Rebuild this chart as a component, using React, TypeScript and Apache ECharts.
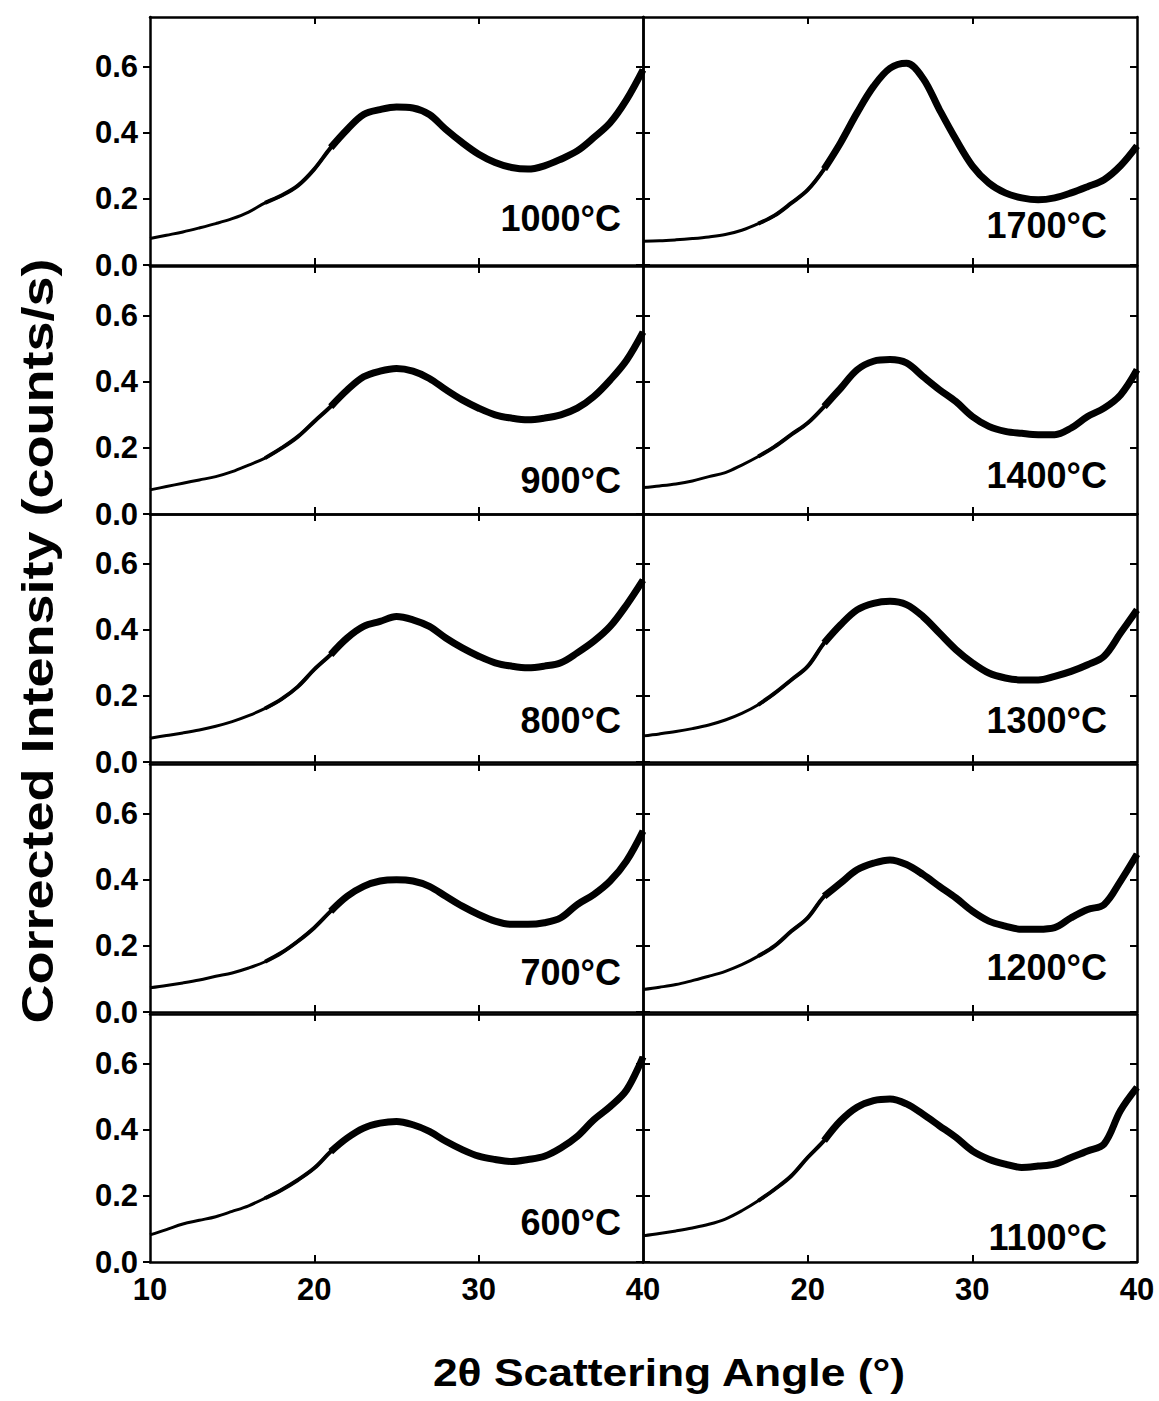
import React, { useEffect, useRef } from "react";
import * as echarts from "echarts";

// 2θ angles (degrees) at which intensities were read
const ANGLES = [10, 11, 12, 13, 14, 15, 16, 17, 18, 19, 20, 21, 22, 23, 24, 25, 26, 27, 28, 29, 30, 31, 32, 33, 34, 35, 36, 37, 38, 39, 40];

// Corrected intensity (counts/s) for each heat-treatment temperature
const I_600 = [0.082, 0.098, 0.115, 0.126, 0.137, 0.153, 0.17, 0.193, 0.218, 0.248, 0.284, 0.334, 0.375, 0.405, 0.42, 0.425, 0.415, 0.395, 0.365, 0.34, 0.32, 0.31, 0.304, 0.31, 0.32, 0.345, 0.38, 0.43, 0.47, 0.52, 0.62];
const I_700 = [0.073, 0.08, 0.088, 0.097, 0.108, 0.118, 0.133, 0.152, 0.179, 0.214, 0.255, 0.305, 0.35, 0.38, 0.396, 0.4, 0.396, 0.38, 0.35, 0.32, 0.295, 0.275, 0.265, 0.265, 0.27, 0.285, 0.325, 0.355, 0.396, 0.457, 0.547];
const I_800 = [0.072, 0.08, 0.088, 0.097, 0.108, 0.122, 0.14, 0.162, 0.19, 0.228, 0.28, 0.325, 0.375, 0.41, 0.425, 0.44, 0.43, 0.41, 0.375, 0.345, 0.32, 0.3, 0.29, 0.285, 0.29, 0.3, 0.33, 0.365, 0.41, 0.475, 0.55];
const I_900 = [0.073, 0.083, 0.093, 0.103, 0.113, 0.128, 0.148, 0.169, 0.199, 0.234, 0.28, 0.325, 0.375, 0.415, 0.432, 0.44, 0.432, 0.41, 0.376, 0.345, 0.32, 0.3, 0.29, 0.285, 0.29, 0.3, 0.32, 0.355, 0.405, 0.465, 0.55];
const I_1000 = [0.08, 0.09, 0.1, 0.112, 0.125, 0.14, 0.16, 0.188, 0.21, 0.24, 0.29, 0.355, 0.41, 0.455, 0.47, 0.478, 0.475, 0.455, 0.41, 0.37, 0.335, 0.31, 0.295, 0.29, 0.3, 0.32, 0.345, 0.385, 0.43, 0.5, 0.59];
const I_1100 = [0.079, 0.086, 0.094, 0.103, 0.114, 0.13, 0.155, 0.185, 0.22, 0.26, 0.316, 0.367, 0.427, 0.468, 0.488, 0.493, 0.478, 0.447, 0.412, 0.377, 0.336, 0.311, 0.296, 0.286, 0.29, 0.296, 0.316, 0.336, 0.357, 0.458, 0.528];
const I_1200 = [0.068, 0.075, 0.083, 0.095, 0.108, 0.123, 0.143, 0.169, 0.2, 0.244, 0.285, 0.35, 0.39, 0.43, 0.45, 0.46, 0.446, 0.416, 0.38, 0.345, 0.305, 0.275, 0.26, 0.25, 0.25, 0.255, 0.285, 0.31, 0.325, 0.396, 0.477];
const I_1300 = [0.079, 0.085, 0.092, 0.101, 0.112, 0.127, 0.147, 0.173, 0.208, 0.248, 0.289, 0.36, 0.415, 0.46, 0.48, 0.486, 0.476, 0.44, 0.39, 0.34, 0.3, 0.269, 0.254, 0.248, 0.248, 0.259, 0.274, 0.294, 0.32, 0.39, 0.46];
const I_1400 = [0.08, 0.085, 0.091, 0.1, 0.113, 0.125, 0.148, 0.174, 0.204, 0.24, 0.275, 0.325, 0.38, 0.436, 0.462, 0.467, 0.457, 0.416, 0.376, 0.34, 0.295, 0.265, 0.25, 0.244, 0.24, 0.24, 0.26, 0.295, 0.32, 0.36, 0.436];
const I_1700 = [0.072, 0.073, 0.076, 0.08, 0.085, 0.092, 0.105, 0.125, 0.15, 0.187, 0.227, 0.29, 0.37, 0.46, 0.54, 0.595, 0.61, 0.565, 0.47, 0.38, 0.3, 0.248, 0.218, 0.203, 0.197, 0.203, 0.218, 0.237, 0.258, 0.3, 0.36];

// Panel labels, column by column, top to bottom
const LABELS_LEFT = ["1000°C", "900°C", "800°C", "700°C", "600°C"];
const LABELS_RIGHT = ["1700°C", "1400°C", "1300°C", "1200°C", "1100°C"];
const SERIES_LEFT = [I_1000, I_900, I_800, I_700, I_600];
const SERIES_RIGHT = [I_1700, I_1400, I_1300, I_1200, I_1100];

// Axis ticks / labels
const Y_TICKS = [0, 0.2, 0.4, 0.6];
const X_TICKS = [20, 30];
const X_LABELS_LEFT = [10, 20, 30, 40];
const X_LABELS_RIGHT = [20, 30, 40];
const Y_MIN = 0;
const Y_MAX = 0.75;
const X_MIN = 10;
const X_MAX = 40;

const X_TITLE = "2θ Scattering Angle (°)";
const Y_TITLE = "Corrected Intensity (counts/s)";

// Layout (pixels)
const ROW_BOTTOMS = [265, 514, 762, 1012, 1262];
const PANEL_H = 248;
const COL_LEFTS = [150, 643];
const COL_WIDTHS = [493, 494];
const LABEL_RIGHT = [621, 1107];
const LABEL_OFFSETS_LEFT = [47, 34, 42, 40, 40];
const LABEL_OFFSETS_RIGHT = [40, 39, 42, 45, 25];
// widths of the noisy band as the signal gets noisier
const BAND_STEPS = [
  { from: 17, width: 4 },
  { from: 21, width: 7 },
];

const FONT = "'Liberation Sans', Arial, Helvetica, sans-serif";

export default function App() {
  const ref = useRef<HTMLDivElement>(null);

  useEffect(() => {
    document.body.style.margin = "0";
    if (!ref.current) return;
    const chart = echarts.init(ref.current, undefined, { renderer: "svg" });

    const grids: any[] = [];
    const xAxes: any[] = [];
    const yAxes: any[] = [];
    const series: any[] = [];
    const graphics: any[] = [];

    const axisLineStyle = { color: "#000", width: 2.5 };
    const tickStyle = { color: "#000", width: 2 };

    let gi = 0;
    for (let col = 0; col < 2; col++) {
      const labels = col === 0 ? LABELS_LEFT : LABELS_RIGHT;
      const data = col === 0 ? SERIES_LEFT : SERIES_RIGHT;
      const offsets = col === 0 ? LABEL_OFFSETS_LEFT : LABEL_OFFSETS_RIGHT;
      for (let row = 0; row < 5; row++) {
        const bottomPx = ROW_BOTTOMS[row];
        grids.push({
          left: COL_LEFTS[col],
          top: bottomPx - PANEL_H,
          width: COL_WIDTHS[col],
          height: PANEL_H,
          containLabel: false,
        });
        const isBottomRow = row === 4;
        xAxes.push({
          type: "value",
          gridIndex: gi,
          position: "bottom",
          min: X_MIN,
          max: X_MAX,
          interval: 10,
          axisLine: { show: true, onZero: false, lineStyle: axisLineStyle },
          axisTick: { show: true, inside: true, length: 7, lineStyle: tickStyle, customValues: X_TICKS },
          axisLabel: {
            show: isBottomRow,
            customValues: col === 0 ? X_LABELS_LEFT : X_LABELS_RIGHT,
            color: "#000",
            fontFamily: FONT,
            fontWeight: "bold",
            fontSize: 31,
            margin: 12,
          },
          splitLine: { show: false },
        });
        xAxes.push({
          type: "value",
          gridIndex: gi,
          position: "top",
          min: X_MIN,
          max: X_MAX,
          interval: 10,
          axisLine: { show: true, onZero: false, lineStyle: axisLineStyle },
          axisTick: { show: true, inside: true, length: 7, lineStyle: tickStyle, customValues: X_TICKS },
          axisLabel: { show: false },
          splitLine: { show: false },
        });
        yAxes.push({
          type: "value",
          gridIndex: gi,
          position: "left",
          min: Y_MIN,
          max: Y_MAX,
          interval: 0.2,
          axisLine: { show: true, onZero: false, lineStyle: axisLineStyle },
          axisTick: { show: true, inside: col === 1, length: 7, lineStyle: tickStyle, customValues: Y_TICKS },
          axisLabel: {
            show: col === 0,
            customValues: Y_TICKS,
            formatter: (v: number) => v.toFixed(1),
            color: "#000",
            fontFamily: FONT,
            fontWeight: "bold",
            fontSize: 31,
            margin: 12,
          },
          splitLine: { show: false },
        });
        yAxes.push({
          type: "value",
          gridIndex: gi,
          position: "right",
          min: Y_MIN,
          max: Y_MAX,
          interval: 0.2,
          axisLine: { show: true, onZero: false, lineStyle: axisLineStyle },
          axisTick: { show: true, inside: true, length: 7, lineStyle: tickStyle, customValues: Y_TICKS },
          axisLabel: { show: false },
          splitLine: { show: false },
        });

        const pts = ANGLES.map((a, k) => [a, data[row][k]]);
        series.push({
          type: "line",
          name: labels[row],
          xAxisIndex: 2 * gi,
          yAxisIndex: 2 * gi,
          data: pts,
          smooth: 0.35,
          showSymbol: false,
          lineStyle: { color: "#000", width: 3 },
          z: 3,
        });
        BAND_STEPS.forEach((b) => {
          series.push({
            type: "line",
            name: labels[row] + " band " + b.from,
            xAxisIndex: 2 * gi,
            yAxisIndex: 2 * gi,
            data: pts.filter((p) => p[0] >= b.from),
            smooth: 0.35,
            showSymbol: false,
            lineStyle: { color: "#000", width: b.width },
            z: 3,
          });
        });

        graphics.push({
          type: "text",
          x: LABEL_RIGHT[col],
          y: bottomPx - offsets[row],
          style: {
            text: labels[row],
            fill: "#000",
            font: `bold 36px ${FONT}`,
            textAlign: "right",
            textVerticalAlign: "middle",
          },
          z: 10,
        });
        gi++;
      }
    }

    graphics.push({
      type: "text",
      x: 669,
      y: 1372,
      scaleX: 1.14,
      style: {
        text: X_TITLE,
        fill: "#000",
        font: `bold 39px ${FONT}`,
        textAlign: "center",
        textVerticalAlign: "middle",
      },
    });
    graphics.push({
      type: "text",
      x: 38,
      y: 641,
      rotation: Math.PI / 2,
      scaleX: 1.2,
      style: {
        text: Y_TITLE,
        fill: "#000",
        font: `bold 45px ${FONT}`,
        textAlign: "center",
        textVerticalAlign: "middle",
      },
    });

    chart.setOption({
      animation: false,
      backgroundColor: "#fff",
      grid: grids,
      xAxis: xAxes,
      yAxis: yAxes,
      series,
      graphic: graphics,
    });

    return () => chart.dispose();
  }, []);

  return <div ref={ref} style={{ width: 1159, height: 1401 }} />;
}
